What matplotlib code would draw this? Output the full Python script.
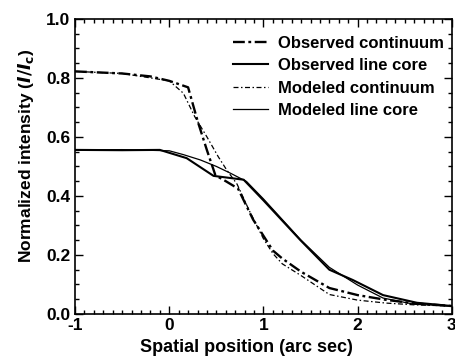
import matplotlib
matplotlib.use("Agg")
import matplotlib.pyplot as plt
from matplotlib.ticker import MultipleLocator

plt.rcParams['font.family'] = ['Liberation Sans', 'DejaVu Sans']
plt.rcParams['font.weight'] = 'bold'
plt.rcParams['mathtext.fontset'] = 'custom'
plt.rcParams['mathtext.it'] = 'Liberation Sans Narrow:italic:bold'
plt.rcParams['mathtext.bf'] = 'Liberation Sans Narrow:bold'
plt.rcParams['mathtext.rm'] = 'Liberation Sans Narrow:bold'

# observed continuum
obs_cont_x = [-1, -0.5, -0.2, 0.0, 0.2, 0.3, 0.4, 0.49, 0.6, 0.73, 0.89, 1.03, 1.1, 1.2, 1.4, 1.7, 2.0, 2.3, 2.6, 3.0]
obs_cont_y = [0.822, 0.815, 0.805, 0.79, 0.768, 0.655, 0.555, 0.47, 0.45, 0.425, 0.32, 0.25, 0.215, 0.188, 0.143, 0.088, 0.064, 0.048, 0.036, 0.027]

# observed line core
obs_core_x = [-1, -0.5, -0.1, 0.185, 0.47, 0.79, 1.0, 1.39, 1.7, 1.95, 2.27, 2.63, 3.0]
obs_core_y = [0.556, 0.555, 0.556, 0.528, 0.468, 0.455, 0.385, 0.251, 0.15, 0.115, 0.064, 0.038, 0.027]

# modeled continuum
mod_cont_x = [-1, -0.5, -0.2, 0.0, 0.15, 0.27, 0.4, 0.52, 0.61, 0.72, 0.85, 1.0, 1.1, 1.2, 1.4, 1.7, 2.0, 2.3, 2.6, 3.0]
mod_cont_y = [0.822, 0.815, 0.80, 0.79, 0.748, 0.669, 0.60, 0.533, 0.488, 0.44, 0.35, 0.255, 0.205, 0.17, 0.13, 0.066, 0.047, 0.037, 0.031, 0.027]

# modeled line core
mod_core_x = [-1, -0.5, 0.0, 0.15, 0.33, 0.5, 0.65, 0.82, 1.0, 1.4, 1.7, 2.0, 2.27, 2.6, 3.0]
mod_core_y = [0.556, 0.557, 0.553, 0.54, 0.522, 0.50, 0.477, 0.449, 0.39, 0.25, 0.158, 0.098, 0.054, 0.033, 0.027]

labels = ['Observed continuum', 'Observed line core', 'Modeled continuum', 'Modeled line core']
xtick_labels = ['-1', '0', '1', '2', '3']

fig = plt.figure(figsize=(4.55, 3.56), dpi=100)
ax = fig.add_axes([0.165, 0.118, 0.828, 0.829])

ax.plot(obs_cont_x, obs_cont_y, color='k', lw=1.7, dashes=[5, 1.5, 1.2, 1.5], label=labels[0])
ax.plot(obs_core_x, obs_core_y, color='k', lw=1.5, label=labels[1])
ax.plot(mod_cont_x, mod_cont_y, color='k', lw=0.9, dashes=[4, 2, 1.2, 2], label=labels[2])
ax.plot(mod_core_x, mod_core_y, color='k', lw=0.9, label=labels[3])

ax.set_xlim(-1, 3)
ax.set_ylim(0, 1.0)
ax.xaxis.set_minor_locator(MultipleLocator(0.1))
ax.yaxis.set_major_locator(MultipleLocator(0.2))
ax.yaxis.set_minor_locator(MultipleLocator(0.05))
ax.set_xticks([-1, 0, 1, 2, 3])
ax.set_xticklabels(xtick_labels)
ax.tick_params(which='both', direction='in', top=True, right=True, labelsize=12.5, width=1)
ax.tick_params(which='major', length=6)
ax.tick_params(which='minor', length=3)
ax.tick_params(axis='x', pad=3)
for s in ax.spines.values():
    s.set_linewidth(1.2)

ax.set_xlabel('Spatial position (arc sec)', fontsize=13, fontweight='bold')
ax.xaxis.set_label_coords(0.454, -0.085)
ax.set_ylabel(r'Normalized intensity ($\mathit{I/I}_{\mathbf{c}}$)', fontsize=12.5, fontweight='bold',
              family=['Liberation Sans Narrow', 'Liberation Sans'])
ax.yaxis.set_label_coords(-0.105, 0.536)

ax.legend(loc='upper left', frameon=False, fontsize=12, handlelength=2.1,
          borderaxespad=0, borderpad=0, labelspacing=0.45, handletextpad=0.6,
          bbox_to_anchor=(0.419, 0.943))

fig.savefig('out.png', dpi=100)
